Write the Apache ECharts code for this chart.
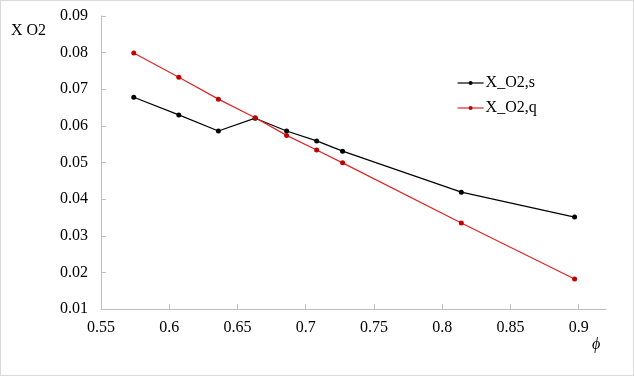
<!DOCTYPE html>
<html>
<head>
<meta charset="utf-8">
<script src="https://cdn.jsdelivr.net/npm/echarts@6/dist/echarts.min.js"></script>
<style>
  html, body { margin: 0; padding: 0; background: #fff; }
  #chart { width: 632px; height: 374px; border: 1px solid #d9d9d9; }
</style>
</head>
<body>
<div id="chart"></div>
<script>
const phiS = [0.574, 0.607, 0.636, 0.663, 0.686, 0.708, 0.727, 0.814, 0.897];
const xo2S = [0.0678, 0.0630, 0.0586, 0.0621, 0.0586, 0.0559, 0.0531, 0.0419, 0.0351];
const phiQ = [0.574, 0.607, 0.636, 0.663, 0.686, 0.708, 0.727, 0.814, 0.897];
const xo2Q = [0.0799, 0.0733, 0.0673, 0.0622, 0.0574, 0.0534, 0.0499, 0.0335, 0.0182];
const xTicks = [0.55, 0.6, 0.65, 0.7, 0.75, 0.8, 0.85, 0.9];

const font = '"Liberation Serif", "DejaVu Serif", serif';
const chart = echarts.init(document.getElementById('chart'));

chart.setOption({
    animation: false,
    grid: { left: 100, right: 27, top: 15, bottom: 66 },
    legend: {
        left: 451,
        top: 69,
        orient: 'vertical',
        itemGap: 9,
        itemWidth: 26,
        itemHeight: 5,
        lineStyle: { width: 1.2 },
        textStyle: { fontFamily: font, fontSize: 16, color: '#000', padding: [0, 0, 0, -3] },
        data: ['X_O2,s', 'X_O2,q']
    },
    graphic: [
        { type: 'text', left: 10, top: 22, style: { text: 'X O2', font: '16px ' + font, fill: '#000' } },
        { type: 'text', left: 591, top: 336, style: { text: 'ϕ', font: 'italic 16px ' + font, fill: '#000' } }
    ],
    xAxis: {
        type: 'value',
        min: 0.55,
        max: 0.92,
        interval: 0.05,
        splitLine: { show: false },
        axisLine: { lineStyle: { color: '#bfbfbf' } },
        axisTick: { inside: true, length: 5, customValues: xTicks, lineStyle: { color: '#bfbfbf' } },
        axisLabel: {
            customValues: xTicks,
            margin: 11,
            fontFamily: font,
            fontSize: 16,
            color: '#000',
            formatter: v => String(parseFloat(v.toFixed(2)))
        }
    },
    yAxis: {
        type: 'value',
        min: 0.01,
        max: 0.09,
        interval: 0.01,
        splitLine: { show: false },
        axisLine: { show: true, lineStyle: { color: '#bfbfbf' } },
        axisTick: { show: true, inside: true, length: 5, lineStyle: { color: '#bfbfbf' } },
        axisLabel: {
            margin: 13,
            fontFamily: font,
            fontSize: 16,
            color: '#000',
            formatter: v => v.toFixed(2)
        }
    },
    series: [
        {
            name: 'X_O2,s',
            type: 'line',
            data: phiS.map((x, i) => [x, xo2S[i]]),
            symbol: 'circle',
            symbolSize: 5,
            itemStyle: { color: '#000' },
            lineStyle: { color: '#000', width: 1.2 }
        },
        {
            name: 'X_O2,q',
            type: 'line',
            data: phiQ.map((x, i) => [x, xo2Q[i]]),
            symbol: 'circle',
            symbolSize: 5,
            itemStyle: { color: '#c00000' },
            lineStyle: { color: '#e02424', width: 1.2 }
        }
    ]
});
</script>
</body>
</html>
